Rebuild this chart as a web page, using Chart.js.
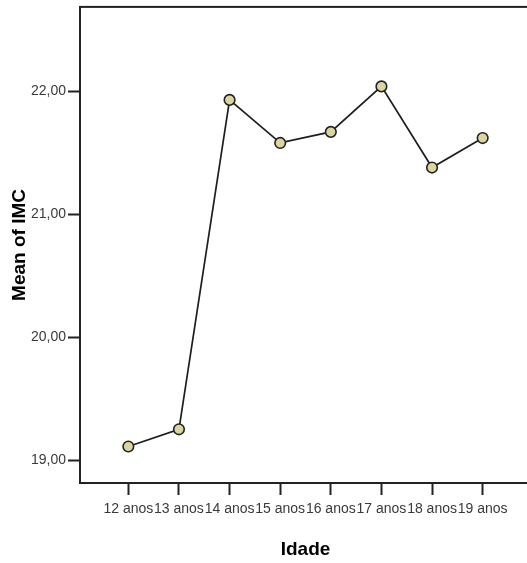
<!DOCTYPE html>
<html>
<head>
<meta charset="utf-8">
<script src="https://cdn.jsdelivr.net/npm/chart.js@4/dist/chart.umd.min.js"></script>
<style>
html,body{margin:0;padding:0;background:#fff;overflow:hidden;}
#wrap{width:540px;height:563px;}
</style>
</head>
<body>
<div id="wrap"><canvas id="c" width="540" height="563"></canvas></div>
<script>
const categories = ["12 anos","13 anos","14 anos","15 anos","16 anos","17 anos","18 anos","19 anos"];
const meanIMC = [19.11, 19.25, 21.93, 21.58, 21.67, 22.04, 21.38, 21.62];
const yTicks = [19, 20, 21, 22];
const yTitle = "Mean of IMC";
const xTitle = "Idade";

const frame = {
  id: 'frame',
  beforeDatasetsDraw(chart) {
    const a = chart.chartArea, ctx = chart.ctx;
    ctx.save();
    ctx.strokeStyle = '#222';
    ctx.lineWidth = 2;
    ctx.strokeRect(a.left, a.top, a.right - a.left, a.bottom - a.top);
    ctx.restore();
  }
};

new Chart(document.getElementById('c'), {
  type: 'line',
  data: {
    datasets: [{
      data: meanIMC.map((v, i) => ({x: i, y: v})),
      borderColor: '#1e1e1e',
      borderWidth: 1.7,
      pointRadius: 5.3,
      pointBackgroundColor: '#dbd69f',
      pointBorderColor: '#222',
      pointBorderWidth: 1.6,
      tension: 0,
      clip: false
    }]
  },
  options: {
    responsive: false,
    animation: false,
    devicePixelRatio: 1,
    layout: {padding: {left: 0, top: 6, right: 9, bottom: 0}},
    plugins: {legend: {display: false}, tooltip: {enabled: false}},
    scales: {
      x: {
        type: 'linear',
        min: -0.955,
        max: 7.955,
        afterBuildTicks: s => { s.ticks = categories.map((_, i) => ({value: i})); },
        afterFit: s => { s.height = 80; s.paddingLeft = 0; s.paddingRight = 0; },
        border: {display: false},
        grid: {display: true, drawOnChartArea: false, drawTicks: true, tickLength: 12, tickWidth: 2, tickColor: '#222'},
        ticks: {
          autoSkip: false, maxRotation: 0, minRotation: 0, padding: 6,
          color: '#3a3a3a',
          font: {family: '"Liberation Sans", Arial, sans-serif', size: 14},
          callback: v => categories[v]
        },
        title: {
          display: true, text: xTitle, color: '#000',
          font: {family: '"Liberation Sans", Arial, sans-serif', size: 19, weight: 'bold'},
          padding: {top: 0, bottom: 2}
        }
      },
      y: {
        type: 'linear',
        min: 18.813,
        max: 22.687,
        afterBuildTicks: s => { s.ticks = yTicks.map(v => ({value: v})); },
        afterFit: s => { s.width = 80; s.paddingTop = 0; s.paddingBottom = 0; },
        border: {display: false},
        grid: {display: true, drawOnChartArea: false, drawTicks: true, tickLength: 12, tickWidth: 2, tickColor: '#222'},
        ticks: {
          padding: 2,
          color: '#3a3a3a',
          font: {family: '"Liberation Sans", Arial, sans-serif', size: 14},
          callback: v => v.toFixed(2).replace('.', ',')
        },
        title: {
          display: true, text: yTitle, color: '#000',
          font: {family: '"Liberation Sans", Arial, sans-serif', size: 19, weight: 'bold'},
          padding: {top: 8, bottom: 0}
        }
      }
    }
  },
  plugins: [frame]
});
</script>
</body>
</html>
